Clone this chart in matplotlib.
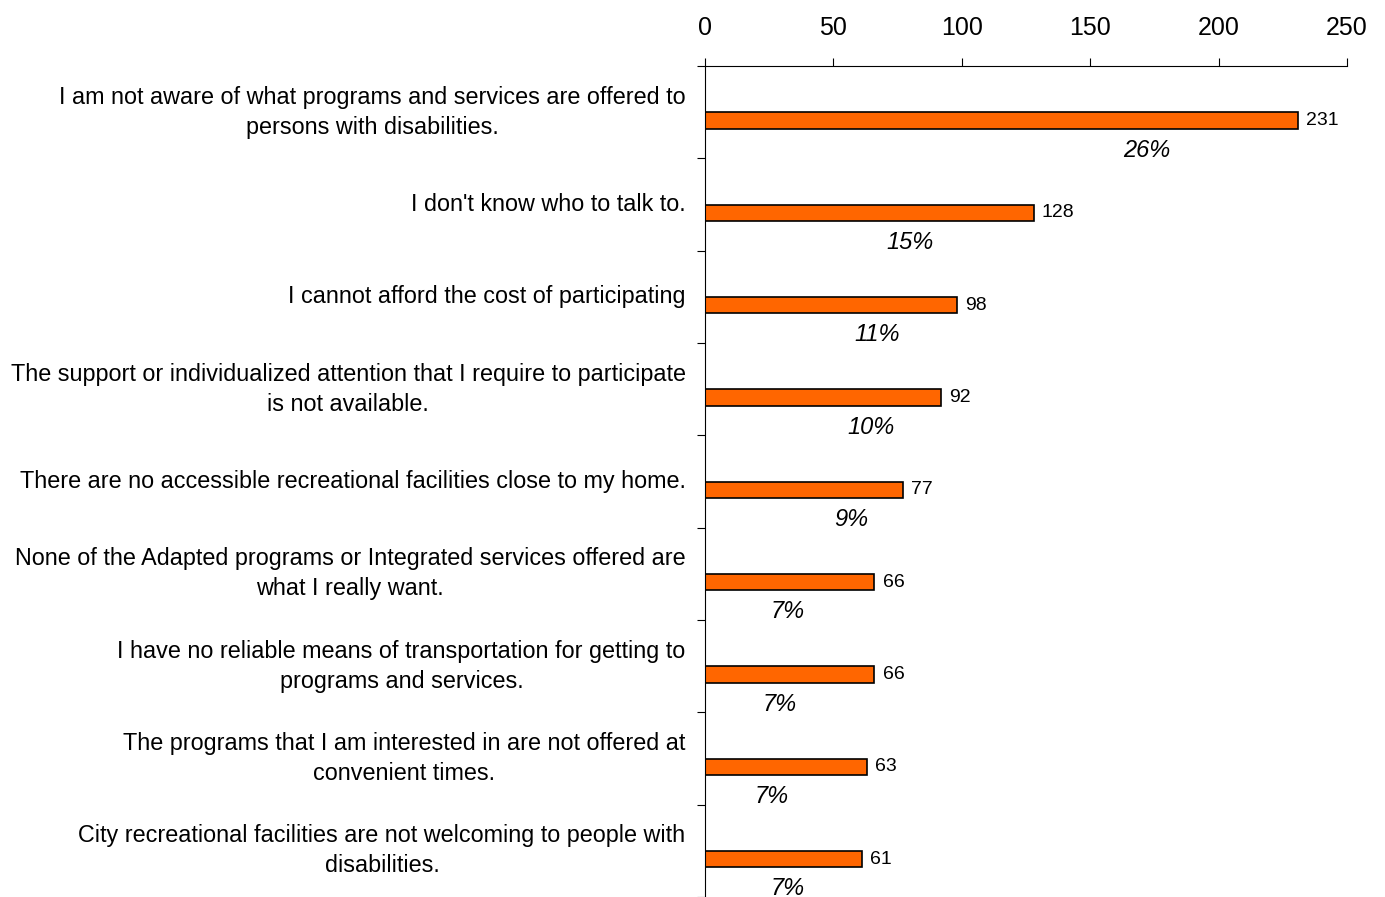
import matplotlib.pyplot as plt
import numpy as np

plt.rcParams['font.family'] = ['Liberation Sans', 'DejaVu Sans']

reasons = [
    "I am not aware of what programs and services are offered to\npersons with disabilities.",
    "I don't know who to talk to.",
    "I cannot afford the cost of participating",
    "The support or individualized attention that I require to participate\nis not available.",
    "There are no accessible recreational facilities close to my home.",
    "None of the Adapted programs or Integrated services offered are\nwhat I really want.",
    "I have no reliable means of transportation for getting to\nprograms and services.",
    "The programs that I am interested in are not offered at\nconvenient times.",
    "City recreational facilities are not welcoming to people with\ndisabilities.",
]
counts = [231, 128, 98, 92, 77, 66, 66, 63, 61]
percents = ["26%", "15%", "11%", "10%", "9%", "7%", "7%", "7%", "7%"]
# where each percentage sits along the count axis
pct_x = [172, 80, 67, 64.5, 57, 32, 29, 26, 32]

fig = plt.figure(figsize=(13.85, 8.97), dpi=100)
ax = fig.add_axes([0.509, 0.0, 0.4636, 0.9264])

centers = np.arange(len(counts)) + 0.5
ax.barh(centers + 0.09, counts, height=0.175, color='#FF6600',
        edgecolor='black', linewidth=1.2)

for c, v, p, px in zip(centers, counts, percents, pct_x):
    ax.text(v + 3.2, c + 0.09, str(v), va='center', ha='left', fontsize=14)
    ax.text(px, c + 0.41, p, va='center', ha='center', fontsize=17,
            style='italic')

ax.set_xlim(0, 250)
ax.set_ylim(len(counts), 0)
ax.xaxis.tick_top()
ax.set_xticks(np.arange(0, 251, 50))
ax.tick_params(axis='x', labelsize=18, length=6, pad=13, width=0.8)

ax.set_yticks(centers)
ax.set_yticklabels(reasons, fontsize=16.8, linespacing=1.38,
                   multialignment='center', va='center')
ax.tick_params(axis='y', length=0, pad=14)
ax.set_yticks(np.arange(len(counts) + 1), minor=True)
ax.tick_params(axis='y', which='minor', length=6, width=0.8)

ax.spines['right'].set_visible(False)
ax.spines['bottom'].set_visible(False)
ax.spines['left'].set_linewidth(0.8)
ax.spines['top'].set_linewidth(0.8)

fig.savefig('out.png', dpi=100)
